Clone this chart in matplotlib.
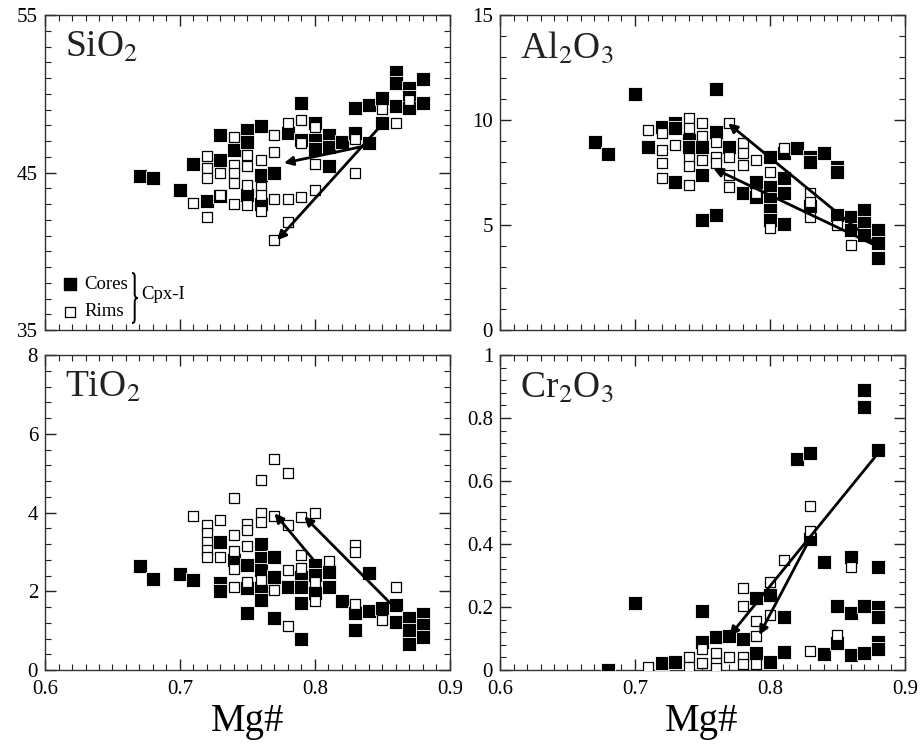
import matplotlib
matplotlib.use("Agg")
import matplotlib.pyplot as plt
from matplotlib.ticker import MultipleLocator, FixedLocator, FuncFormatter
from matplotlib.path import Path
from matplotlib.patches import PathPatch

plt.rcParams['font.family'] = ['Liberation Serif', 'DejaVu Serif']
plt.rcParams['mathtext.fontset'] = 'stix'

# ---------------- SiO2 ----------------
sio2_core_mg = [0.670, 0.680, 0.700, 0.710, 0.720, 0.730, 0.730, 0.730, 0.740, 0.750, 0.750, 0.750,
                0.760, 0.760, 0.760, 0.770, 0.780, 0.790, 0.790, 0.800, 0.800, 0.800, 0.810, 0.810,
                0.810, 0.820, 0.830, 0.830, 0.840, 0.840, 0.850, 0.850, 0.860, 0.860, 0.860, 0.870,
                0.870, 0.870, 0.880, 0.880]
sio2_core = [44.78, 44.67, 43.90, 45.54, 43.19, 47.38, 45.79, 43.50, 46.43, 47.70, 46.96, 43.57,
             47.95, 44.84, 43.00, 44.99, 47.53, 49.39, 47.06, 48.16, 47.06, 46.50, 47.38, 46.60,
             45.41, 46.96, 49.07, 47.49, 49.29, 46.89, 49.71, 48.12, 51.40, 50.70, 49.22, 50.34,
             49.80, 49.07, 50.92, 49.43]
sio2_rim_mg = [0.710, 0.720, 0.720, 0.720, 0.720, 0.730, 0.730, 0.740, 0.740, 0.740, 0.740, 0.740,
               0.750, 0.750, 0.750, 0.750, 0.760, 0.760, 0.760, 0.760, 0.770, 0.770, 0.770, 0.770,
               0.780, 0.780, 0.780, 0.790, 0.790, 0.790, 0.800, 0.800, 0.800, 0.830, 0.830, 0.850,
               0.860, 0.870]
sio2_rim = [43.04, 46.07, 45.26, 44.63, 42.15, 44.95, 43.57, 47.28, 45.48, 44.95, 44.35, 43.00,
            46.11, 45.41, 44.20, 42.94, 45.79, 44.10, 43.57, 42.58, 47.38, 46.32, 43.30, 40.71,
            48.16, 43.30, 41.84, 48.33, 46.85, 43.47, 47.87, 45.54, 43.89, 47.10, 44.99, 49.01,
            48.12, 49.60]
sio2_arrows = [((0.838, 46.7), (0.777, 45.6)), ((0.848, 47.9), (0.772, 40.7))]

# ---------------- Al2O3 ----------------
al_core_mg = [0.670, 0.680, 0.700, 0.710, 0.720, 0.730, 0.730, 0.730, 0.740, 0.740, 0.750, 0.750,
              0.750, 0.760, 0.760, 0.760, 0.770, 0.780, 0.790, 0.790, 0.800, 0.800, 0.800, 0.800,
              0.800, 0.810, 0.810, 0.810, 0.810, 0.820, 0.830, 0.830, 0.830, 0.840, 0.850, 0.850,
              0.850, 0.860, 0.860, 0.870, 0.870, 0.870, 0.880, 0.880, 0.880]
al_core = [8.97, 8.37, 11.22, 8.73, 9.68, 9.87, 9.60, 7.06, 9.05, 8.73, 8.73, 7.38,
           5.24, 11.46, 9.44, 5.48, 8.73, 6.54, 7.06, 6.35, 8.25, 6.83, 6.22, 5.71,
           5.24, 8.41, 7.22, 6.54, 5.05, 8.65, 8.25, 8.00, 5.90, 8.44, 7.78, 7.54,
           5.48, 5.40, 4.76, 5.71, 5.08, 4.52, 4.76, 4.13, 3.41]
al_rim_mg = [0.710, 0.720, 0.720, 0.720, 0.720, 0.730, 0.740, 0.740, 0.740, 0.740, 0.740, 0.750,
             0.750, 0.750, 0.760, 0.760, 0.760, 0.770, 0.770, 0.770, 0.770, 0.780, 0.780, 0.780,
             0.790, 0.790, 0.800, 0.800, 0.810, 0.830, 0.830, 0.830, 0.850, 0.860]
al_rim = [9.52, 9.37, 8.57, 7.97, 7.22, 8.81, 10.08, 9.60, 8.17, 7.81, 6.90, 9.84,
          9.24, 8.10, 8.97, 8.25, 7.94, 9.84, 8.25, 7.38, 6.83, 8.89, 8.44, 7.86,
          8.10, 6.54, 7.54, 4.84, 8.65, 6.54, 6.11, 5.40, 5.00, 4.05]
al_arrows = [((0.879, 4.05), (0.769, 9.84)), ((0.879, 4.0), (0.758, 7.7))]

# ---------------- TiO2 ----------------
ti_core_mg = [0.670, 0.680, 0.700, 0.710, 0.730, 0.730, 0.730, 0.740, 0.750, 0.750, 0.750, 0.760,
              0.760, 0.760, 0.760, 0.760, 0.770, 0.770, 0.770, 0.780, 0.790, 0.790, 0.790, 0.790,
              0.800, 0.800, 0.800, 0.810, 0.810, 0.820, 0.830, 0.830, 0.840, 0.840, 0.850, 0.860,
              0.860, 0.870, 0.870, 0.870, 0.880, 0.880, 0.880]
ti_core = [2.64, 2.30, 2.45, 2.29, 3.26, 2.20, 2.01, 2.79, 2.67, 2.07, 1.44, 3.20,
           2.84, 2.54, 2.07, 1.79, 2.88, 2.37, 1.31, 2.10, 2.37, 2.12, 1.69, 0.80,
           2.67, 2.41, 1.95, 2.50, 2.12, 1.74, 1.44, 1.02, 2.47, 1.51, 1.57, 1.65,
           1.23, 1.31, 1.02, 0.66, 1.42, 1.14, 0.85]
ti_rim_mg = [0.710, 0.720, 0.720, 0.720, 0.720, 0.720, 0.730, 0.730, 0.740, 0.740, 0.740, 0.740,
             0.740, 0.750, 0.750, 0.750, 0.750, 0.760, 0.760, 0.760, 0.760, 0.770, 0.770, 0.770,
             0.780, 0.780, 0.780, 0.780, 0.790, 0.790, 0.790, 0.800, 0.800, 0.800, 0.810, 0.830,
             0.830, 0.830, 0.850, 0.860]
ti_rim = [3.91, 3.68, 3.47, 3.26, 3.05, 2.88, 3.81, 2.88, 4.36, 3.43, 3.03, 2.56,
          2.12, 3.72, 3.56, 3.15, 2.24, 4.83, 3.98, 3.77, 2.29, 5.35, 3.91, 2.03,
          5.01, 3.68, 2.54, 1.12, 3.88, 2.92, 2.58, 4.00, 2.24, 1.74, 2.78, 3.17,
          3.00, 1.68, 1.27, 2.10]
ti_arrows = [((0.800, 2.75), (0.770, 3.98)), ((0.856, 1.69), (0.792, 3.90))]

# ---------------- Cr2O3 ----------------
cr_core_mg = [0.680, 0.700, 0.720, 0.730, 0.750, 0.750, 0.760, 0.770, 0.780, 0.790, 0.790, 0.800,
              0.800, 0.810, 0.810, 0.820, 0.830, 0.830, 0.840, 0.840, 0.850, 0.850, 0.860, 0.860,
              0.860, 0.870, 0.870, 0.870, 0.870, 0.880, 0.880, 0.880, 0.880, 0.880, 0.880]
cr_core = [0.000, 0.214, 0.023, 0.026, 0.188, 0.090, 0.106, 0.108, 0.100, 0.227, 0.053, 0.238,
           0.026, 0.167, 0.058, 0.669, 0.690, 0.415, 0.344, 0.051, 0.203, 0.087, 0.360, 0.180,
           0.048, 0.889, 0.834, 0.203, 0.055, 0.698, 0.326, 0.201, 0.169, 0.090, 0.066]
cr_rim_mg = [0.710, 0.740, 0.740, 0.750, 0.750, 0.760, 0.760, 0.760, 0.770, 0.780, 0.780, 0.780,
             0.780, 0.790, 0.790, 0.790, 0.800, 0.800, 0.810, 0.830, 0.830, 0.830, 0.850, 0.860]
cr_rim = [0.008, 0.042, 0.010, 0.066, 0.021, 0.053, 0.021, 0.005, 0.040, 0.259, 0.203, 0.040,
          0.019, 0.157, 0.108, 0.019, 0.280, 0.175, 0.349, 0.521, 0.442, 0.061, 0.111, 0.328]
cr_arrows = [((0.880, 0.688), (0.770, 0.108)), ((0.830, 0.420), (0.792, 0.111))]

x_ticks = [0.6, 0.7, 0.8, 0.9]

panels = [
    dict(name=r'SiO$_2$', cx=sio2_core_mg, cy=sio2_core, rx=sio2_rim_mg, ry=sio2_rim,
         arrows=sio2_arrows, ylim=(35, 55), yticks=[35, 45, 55], yminor=1.0,
         pos=[45, 15], xlabels=False),
    dict(name=r'Al$_2$O$_3$', cx=al_core_mg, cy=al_core, rx=al_rim_mg, ry=al_rim,
         arrows=al_arrows, ylim=(0, 15), yticks=[0, 5, 10, 15], yminor=1.0,
         pos=[500, 15], xlabels=False),
    dict(name=r'TiO$_2$', cx=ti_core_mg, cy=ti_core, rx=ti_rim_mg, ry=ti_rim,
         arrows=ti_arrows, ylim=(0, 8), yticks=[0, 2, 4, 6, 8], yminor=0.4,
         pos=[45, 355], xlabels=True),
    dict(name=r'Cr$_2$O$_3$', cx=cr_core_mg, cy=cr_core, rx=cr_rim_mg, ry=cr_rim,
         arrows=cr_arrows, ylim=(0, 1), yticks=[0, 0.2, 0.4, 0.6, 0.8, 1.0], yminor=0.04,
         pos=[500, 355], xlabels=True),
]

W, H = 923, 753
fig = plt.figure(figsize=(W / 100, H / 100), dpi=100)
aw, ah = 405, 315


def yfmt(v, _):
    if abs(v - round(v)) < 1e-9:
        return f"{int(round(v))}"
    return f"{v:.1f}"


def brace(ax, x0_px, yc_px, half_h_px, w_px):
    # curly brace drawn in axes-fraction coordinates (pixel offsets converted)
    px = lambda dx: x0_px / aw + dx / aw
    py = lambda dy: yc_px / ah + dy / ah
    h, m = half_h_px, w_px * 0.45
    verts = [(px(0), py(h)),
             (px(m), py(h)), (px(m), py(h - 2)), (px(m), py(h - 5)),
             (px(m), py(4)),
             (px(m), py(1)), (px(m + 1.5), py(0)), (px(w_px), py(0)),
             (px(m + 1.5), py(0)), (px(m), py(-1)), (px(m), py(-4)),
             (px(m), py(-h + 5)),
             (px(m), py(-h + 2)), (px(m), py(-h)), (px(0), py(-h))]
    codes = [Path.MOVETO,
             Path.CURVE4, Path.CURVE4, Path.CURVE4,
             Path.LINETO,
             Path.CURVE4, Path.CURVE4, Path.CURVE4,
             Path.CURVE4, Path.CURVE4, Path.CURVE4,
             Path.LINETO,
             Path.CURVE4, Path.CURVE4, Path.CURVE4]
    ax.add_patch(PathPatch(Path(verts, codes), transform=ax.transAxes, fill=False,
                           lw=1.4, edgecolor='black', clip_on=False))


for p in panels:
    left, top = p['pos']
    ax = fig.add_axes([left / W, 1 - (top + ah) / H, aw / W, ah / H])
    ax.scatter(p['cx'], p['cy'], marker='s', s=95, facecolor='black', edgecolor='white',
               linewidth=0.6, zorder=3)
    ax.scatter(p['rx'], p['ry'], marker='s', s=55, facecolor='white', edgecolor='black',
               linewidth=0.9, zorder=4)
    for (sx, sy), (ex, ey) in p['arrows']:
        ax.annotate('', xy=(ex, ey), xytext=(sx, sy),
                    arrowprops=dict(arrowstyle='-|>', color='black', lw=2.0,
                                    mutation_scale=13, shrinkA=0, shrinkB=0), zorder=6)
    ax.set_xlim(0.6, 0.9)
    ax.set_ylim(*p['ylim'])
    ax.xaxis.set_major_locator(FixedLocator(x_ticks))
    ax.xaxis.set_minor_locator(MultipleLocator(0.01))
    ax.yaxis.set_major_locator(FixedLocator(p['yticks']))
    ax.yaxis.set_minor_locator(MultipleLocator(p['yminor']))
    ax.yaxis.set_major_formatter(FuncFormatter(yfmt))
    ax.xaxis.set_major_formatter(FuncFormatter(lambda v, _: f"{v:.1f}"))
    ax.tick_params(which='both', direction='in', top=True, right=True, colors='#222222',
                   labelcolor='black', labelsize=15)
    ax.tick_params(which='major', length=8, width=1.0)
    ax.tick_params(which='minor', length=4, width=0.8)
    ax.tick_params(axis='y', pad=5)
    ax.tick_params(axis='x', pad=7)
    if not p['xlabels']:
        ax.tick_params(axis='x', labelbottom=False)
    for s in ax.spines.values():
        s.set_linewidth(1.0)
        s.set_color('#333333')
    ax.text(0.05, 0.95, p['name'], transform=ax.transAxes, fontsize=27,
            ha='left', va='top', color='#222222')
    if p['name'].startswith('SiO'):
        ax.scatter([0.062], [0.146], marker='s', s=75, facecolor='black', edgecolor='black',
                   transform=ax.transAxes, zorder=5, clip_on=False)
        ax.scatter([0.062], [0.058], marker='s', s=55, facecolor='white', edgecolor='black',
                   linewidth=0.9, transform=ax.transAxes, zorder=5, clip_on=False)
        ax.text(0.097, 0.146, 'Cores', transform=ax.transAxes, fontsize=13.5,
                ha='left', va='center')
        ax.text(0.097, 0.058, 'Rims', transform=ax.transAxes, fontsize=13.5,
                ha='left', va='center')
        brace(ax, 87, 32, 25, 6)
        ax.text(0.238, 0.112, 'Cpx-I', transform=ax.transAxes, fontsize=13.5,
                ha='left', va='center')

fig.text(248 / W, 1 - 722 / H, 'Mg#', fontsize=28, ha='center', va='center')
fig.text(702 / W, 1 - 722 / H, 'Mg#', fontsize=28, ha='center', va='center')

fig.savefig('out.png', dpi=100)
